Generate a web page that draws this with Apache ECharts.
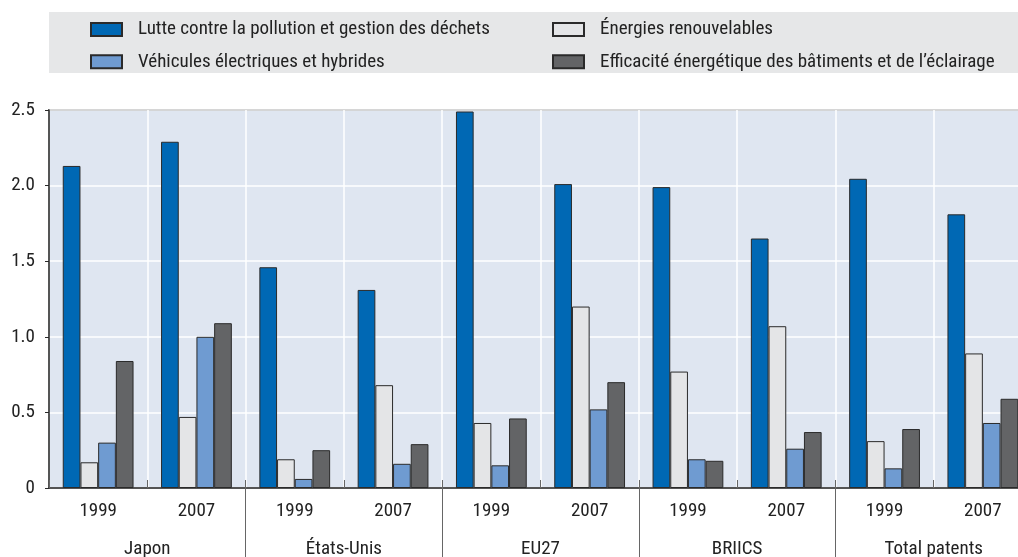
<!DOCTYPE html>
<html>
<head>
<meta charset="utf-8">
<script src="https://cdn.jsdelivr.net/npm/echarts@6/dist/echarts.min.js"></script>
<style>
html,body{margin:0;padding:0;background:#fff;}
#c{width:1018px;height:557px;}
</style>
</head>
<body>
<div id="c"></div>
<script>
const groups = ['Japon', 'États-Unis', 'EU27', 'BRIICS', 'Total patents'];
const years = ['1999', '2007', '1999', '2007', '1999', '2007', '1999', '2007', '1999', '2007'];
const seriesNames = [
  'Lutte contre la pollution et gestion des déchets',
  'Énergies renouvelables',
  'Véhicules électriques et hybrides',
  'Efficacité énergétique des bâtiments et de l’éclairage'
];
const pollution = [2.13, 2.29, 1.46, 1.31, 2.49, 2.01, 1.99, 1.65, 2.045, 1.81];
const renouvelables = [0.17, 0.47, 0.19, 0.68, 0.43, 1.20, 0.77, 1.07, 0.31, 0.89];
const vehicules = [0.30, 1.00, 0.06, 0.16, 0.15, 0.52, 0.19, 0.26, 0.13, 0.43];
const efficacite = [0.84, 1.09, 0.25, 0.29, 0.46, 0.70, 0.18, 0.37, 0.39, 0.59];
const yTicks = [0, 0.5, 1.0, 1.5, 2.0, 2.5];

const FONT = "'Roboto Condensed', 'Liberation Sans Narrow', 'Arial Narrow', Roboto, sans-serif";
const FS = 19;
const colors = ['#0068b4', '#e4e5e7', '#6f9bd1', '#636466'];
const values = [pollution, renouvelables, vehicules, efficacite];

const chart = echarts.init(document.getElementById('c'), null, {renderer: 'canvas'});

const series = seriesNames.map((name, i) => ({
  name: name,
  type: 'bar',
  xAxisIndex: 0,
  yAxisIndex: 0,
  data: values[i],
  barGap: '0%',
  barCategoryGap: '28%',
  itemStyle: {color: colors[i], borderColor: '#2a2a2a', borderWidth: 1},
  emphasis: {disabled: true},
  animation: false
}));

const legendCommon = {
  orient: 'vertical',
  top: 19.5,
  padding: 0,
  itemWidth: 31,
  itemHeight: 13,
  itemGap: 12.3,
  icon: 'rect',
  selectedMode: false,
  textStyle: {fontFamily: FONT, fontSize: FS, color: '#222', lineHeight: 20, padding: [0, 0, 0, 11]}
};

chart.setOption({
  animation: false,
  graphic: [{
    type: 'rect',
    shape: {x: 49, y: 12, width: 969, height: 61},
    style: {fill: '#e6e7e8'},
    z: -10,
    silent: true
  }],
  legend: [
    Object.assign({}, legendCommon, {left: 90, data: [seriesNames[0], seriesNames[2]]}),
    Object.assign({}, legendCommon, {left: 552, data: [seriesNames[1], seriesNames[3]]})
  ],
  grid: {
    left: 49, top: 110, width: 983, height: 378,
    outerBoundsMode: 'none',
    containLabel: false,
    show: true,
    backgroundColor: '#dfe6f1',
    borderColor: '#2a2a2a',
    borderWidth: 1.5
  },
  xAxis: [
    {
      type: 'category',
      data: years,
      position: 'bottom',
      axisLine: {show: true, lineStyle: {color: '#2a2a2a', width: 1.5}},
      axisTick: {show: true, inside: true, length: 8, lineStyle: {color: '#666'}},
      splitLine: {show: true, lineStyle: {color: '#ffffff', width: 1.5}},
      axisLabel: {fontFamily: FONT, fontSize: FS, color: '#222', margin: 14}
    },
    {
      type: 'category',
      data: groups,
      position: 'bottom',
      axisLine: {show: false},
      axisTick: {show: true, length: 72, lineStyle: {color: '#666'}, interval: function (i) { return i !== 0; }},
      splitLine: {show: false},
      axisLabel: {fontFamily: FONT, fontSize: FS, color: '#222', margin: 52}
    }
  ],
  yAxis: {
    type: 'value',
    min: 0, max: 2.5, interval: 0.5,
    axisLine: {show: true, lineStyle: {color: '#2a2a2a', width: 1.5}},
    axisTick: {show: true, length: 4, lineStyle: {color: '#2a2a2a'}},
    splitLine: {show: true, lineStyle: {color: '#ffffff', width: 1.5}},
    axisLabel: {
      fontFamily: FONT, fontSize: FS, color: '#222', margin: 14,
      formatter: function (v) { return yTicks.indexOf(v) >= 0 ? (v === 0 ? '0' : v.toFixed(1)) : ''; }
    }
  },
  series: series
});
</script>
</body>
</html>
